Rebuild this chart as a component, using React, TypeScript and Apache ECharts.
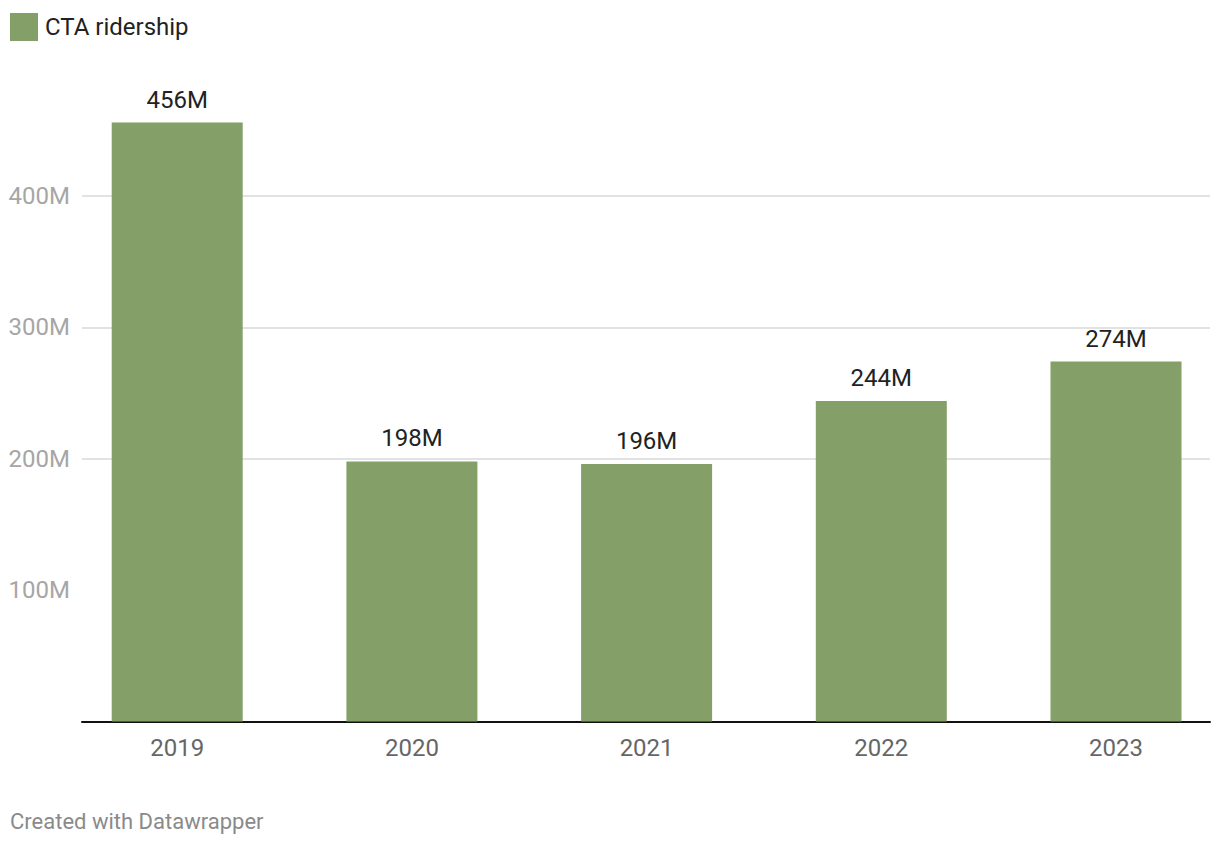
import React, { useEffect, useRef } from "react";
import * as echarts from "echarts";

const years = ["2019", "2020", "2021", "2022", "2023"];
const ridership = [456, 198, 196, 244, 274];
const seriesName = "CTA ridership";
const yTicks = [0, 100, 200, 300, 400];
const footer = "Created with Datawrapper";

export default function App() {
  const ref = useRef<HTMLDivElement>(null);
  useEffect(() => {
    if (!ref.current) return;
    const chart = echarts.init(ref.current, null, { renderer: "svg" });
    const font = "Roboto, 'Noto Sans', sans-serif";
    const yMax = 480;
    const gridLeft = 82;
    const gridRight = 1210;
    const firstCenter = 177.2;
    const step = 234.7;
    const xMin = -(firstCenter - gridLeft) / step;
    const xMax = xMin + (gridRight - gridLeft) / step;
    const idx = years.map((_, i) => i);
    chart.setOption({
      animation: false,
      textStyle: { fontFamily: font },
      legend: {
        left: 5,
        top: 8,
        icon: "rect",
        itemWidth: 28,
        itemHeight: 28,
        itemGap: 10,
        textStyle: { fontSize: 24, color: "#222", fontFamily: font, padding: [0, 0, 0, 2] },
        data: [seriesName],
      },
      grid: [{ left: gridLeft, right: 1220 - gridRight, top: 91, bottom: 124.5 }],
      xAxis: [
        {
          type: "value",
          min: xMin,
          max: xMax,
          axisLine: { show: true, onZero: false, lineStyle: { color: "#111", width: 2 } },
          axisTick: { show: false },
          axisLabel: {
            show: true,
            customValues: idx,
            color: "#666",
            fontSize: 24,
            margin: 14,
            fontFamily: font,
            formatter: (v: number) => years[Math.round(v)] ?? "",
          },
          splitLine: { show: false },
        },
      ],
      yAxis: [
        {
          type: "value",
          min: 0,
          max: yMax,
          interval: 100,
          axisLine: { show: false },
          axisTick: { show: false },
          axisLabel: {
            color: "#a6a6a6",
            fontSize: 24,
            margin: 12,
            fontFamily: font,
            showMaxLabel: false,
            formatter: (v: number) => (yTicks.includes(v) && v > 0 ? `${v}M` : ""),
          },
          splitLine: {
            show: true,
            showMinLine: false,
            showMaxLine: false,
            lineStyle: {
              color: ["transparent", "#e2e2e2", "#e2e2e2", "#e2e2e2", "#e2e2e2", "transparent"],
              width: 2,
            },
          },
        },
      ],
      series: [
        {
          name: seriesName,
          type: "bar",
          data: ridership.map((v, i) => [idx[i], v]),
          barWidth: 131,
          itemStyle: { color: "#84a068" },
          label: {
            show: true,
            position: "top",
            distance: 11,
            color: "#222",
            fontSize: 24,
            fontFamily: font,
            formatter: (p: any) => `${p.value[1]}M`,
          },
        },
      ],
      graphic: [
        {
          type: "text",
          left: 10,
          top: 810,
          style: { text: footer, fill: "#8a8a8a", fontSize: 22, fontFamily: font },
        },
      ],
    });
    return () => chart.dispose();
  }, []);
  return (
    <div
      ref={ref}
      style={{ position: "absolute", left: 0, top: 0, width: 1220, height: 846, background: "#fff" }}
    />
  );
}
